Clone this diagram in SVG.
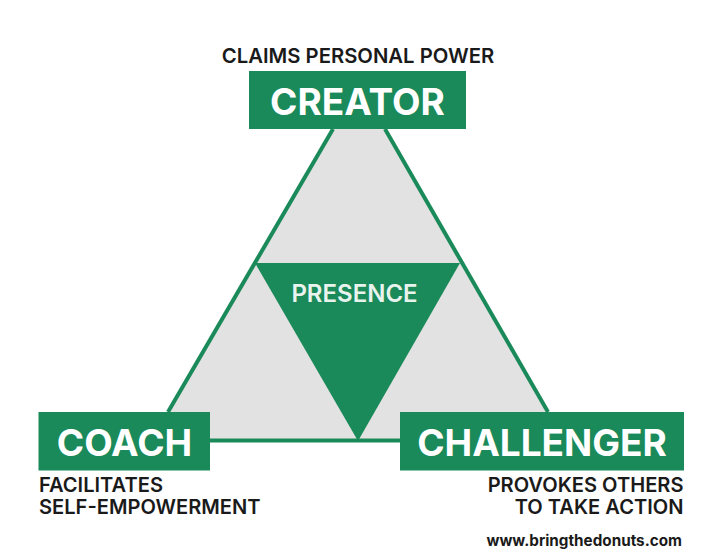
<svg xmlns="http://www.w3.org/2000/svg" width="720" height="557" viewBox="0 0 720 557">
<style>
.box{fill:#1b8a5a}
.title{font-family:Inter,"Liberation Sans",sans-serif;font-weight:700;fill:#fff;text-anchor:middle;font-size:37px}
.sub{font-family:Inter,"Liberation Sans",sans-serif;font-weight:600;fill:#1a1a1a;font-size:20.3px}
.low{font-size:20.1px}
.end{text-anchor:end}
.edge{stroke:#1b8a5a;stroke-width:4;fill:none}
</style>
<rect width="720" height="557" fill="#fff"/>
<polygon points="333,129 385,129 548,412 400,412 400,440 210,440 210,412 168,412" fill="#e2e2e2"/>
<g id="connectors">
<line class="edge" x1="333" y1="129" x2="168" y2="412"/>
<line class="edge" x1="385" y1="129" x2="548" y2="412"/>
<line class="edge" x1="210" y1="440.5" x2="400" y2="440.5"/>
</g>
<g id="presence">
<polygon class="box" points="255,263 460,263 358,441"/>
<text x="354.500" y="301.500" text-anchor="middle" font-family="Inter,'Liberation Sans',sans-serif" font-weight="600" font-size="24" fill="#e8f3ee">PRESENCE</text>
</g>
<g id="creator">
<rect class="box" x="249" y="71" width="217" height="58"/>
<text class="title" x="357.500" y="115">CREATOR</text>
<text class="sub" x="358" y="63" text-anchor="middle">CLAIMS PERSONAL POWER</text>
</g>
<g id="coach">
<rect class="box" x="38.500" y="412" width="171.500" height="58.500"/>
<text class="title" x="124.500" y="456">COACH</text>
<text class="sub low"><tspan x="39" y="492">FACILITATES</tspan><tspan x="39" y="514">SELF-EMPOWERMENT</tspan></text>
</g>
<g id="challenger">
<rect class="box" x="400" y="412" width="284" height="58.500"/>
<text class="title" x="542" y="456">CHALLENGER</text>
<text class="sub low end"><tspan x="683.500" y="492">PROVOKES OTHERS</tspan><tspan x="683.500" y="514">TO TAKE ACTION</tspan></text>
<text x="682" y="546" text-anchor="end" font-family="Inter,'Liberation Sans',sans-serif" font-weight="700" font-size="15.250" fill="#1a1a1a">www.bringthedonuts.com</text>
</g>
</svg>
